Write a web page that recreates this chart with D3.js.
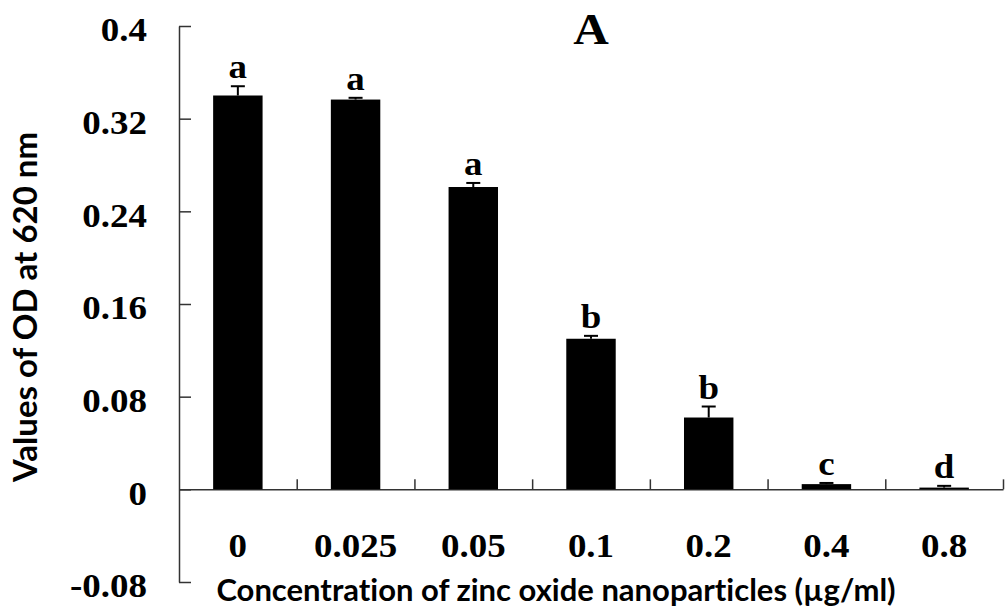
<!DOCTYPE html>
<html>
<head>
<meta charset="utf-8">
<script src="https://cdn.jsdelivr.net/npm/d3@7"></script>
<style>
  body { margin: 0; background: #fff; }
  svg { display: block; }
  .tick text, .num { font-family: "Liberation Serif", "Times New Roman", serif; font-weight: bold; fill: #000; }
  .lab { font-family: Lato, "Open Sans", sans-serif; font-weight: bold; fill: #000; font-variant-ligatures: none; }
</style>
</head>
<body>
<svg id="chart"></svg>
<script>
var categories = ["0", "0.025", "0.05", "0.1", "0.2", "0.4", "0.8"];
var odValues = [0.340, 0.3365, 0.261, 0.130, 0.062, 0.0045, 0.0015];
var errValues = [0.008, 0.0015, 0.0035, 0.0025, 0.0095, 0.001, 0.0015];
var letters = ["a", "a", "a", "b", "b", "c", "d"];
var yTicks = [-0.08, 0, 0.08, 0.16, 0.24, 0.32, 0.4];
var yTickLabels = ["-0.08", "0", "0.08", "0.16", "0.24", "0.32", "0.4"];

var W = 1005, H = 611,
	plotLeft = 179, plotRight = 1003, plotTop = 26, plotBottom = 582;

var svg = d3.select('#chart')
	.attr('width', W)
	.attr('height', H);

var y = d3.scaleLinear()
	.domain([-0.08, 0.4])
	.range([plotBottom, plotTop]);

// one band per concentration, ticks sit on the band edges
var xOuter = d3.scaleBand()
	.domain(categories)
	.range([plotLeft, plotRight])
	.padding(0);

var x = d3.scaleBand()
	.domain(categories)
	.range([plotLeft, plotRight])
	.paddingInner(0.58)
	.paddingOuter(0.29);

var axisColor = "#333";

// y axis, ticks point inside
var yAxis = d3.axisLeft(y)
	.tickValues(yTicks)
	.tickSizeInner(-12)
	.tickSizeOuter(0)
	.tickPadding(32)
	.tickFormat(function(d, i) { return yTickLabels[i]; });

var gy = svg.append('g')
	.attr('transform', 'translate(' + plotLeft + ',0)')
	.call(yAxis);
gy.selectAll('.tick text').attr('font-size', 33).attr('dy', '0.45em');
gy.selectAll('path, line').attr('stroke', axisColor).attr('stroke-width', 1.5);

// x axis at zero, ticks upward between bars
var idx = d3.scaleLinear().domain([0, categories.length]).range([plotLeft, plotRight]);
var xAxis = d3.axisTop(idx)
	.tickValues(d3.range(1, categories.length + 1))
	.tickSizeInner(10)
	.tickSizeOuter(0)
	.tickFormat("");

var gx = svg.append('g')
	.attr('transform', 'translate(0,' + y(0) + ')')
	.call(xAxis);
gx.selectAll('path, line').attr('stroke', axisColor).attr('stroke-width', 1.5);

// category labels
svg.selectAll('.cat')
	.data(categories)
	.enter().append('text')
	.attr('class', 'num')
	.attr('x', function(d) { return xOuter(d) + xOuter.bandwidth() / 2; })
	.attr('y', y(0) + 68)
	.attr('text-anchor', 'middle')
	.attr('font-size', 33)
	.text(function(d) { return d; });

var rows = categories.map(function(c, i) {
	return { cat: c, value: odValues[i], err: errValues[i], letter: letters[i] };
});

svg.selectAll('.bar')
	.data(rows)
	.enter().append('rect')
	.attr('class', 'bar')
	.attr('x', function(d) { return x(d.cat); })
	.attr('y', function(d) { return y(d.value); })
	.attr('width', x.bandwidth())
	.attr('height', function(d) { return y(0) - y(d.value); })
	.attr('fill', '#000');

// error bars
var eb = svg.selectAll('.err')
	.data(rows)
	.enter().append('g')
	.attr('class', 'err')
	.attr('stroke', '#000')
	.attr('stroke-width', 2);

eb.append('line')
	.attr('x1', function(d) { return x(d.cat) + x.bandwidth() / 2; })
	.attr('x2', function(d) { return x(d.cat) + x.bandwidth() / 2; })
	.attr('y1', function(d) { return y(d.value); })
	.attr('y2', function(d) { return y(d.value + d.err); });

eb.append('line')
	.attr('x1', function(d) { return x(d.cat) + x.bandwidth() / 2 - 7; })
	.attr('x2', function(d) { return x(d.cat) + x.bandwidth() / 2 + 7; })
	.attr('y1', function(d) { return y(d.value + d.err); })
	.attr('y2', function(d) { return y(d.value + d.err); });

// significance letters
svg.selectAll('.sig')
	.data(rows)
	.enter().append('text')
	.attr('class', 'num')
	.attr('x', function(d) { return x(d.cat) + x.bandwidth() / 2; })
	.attr('y', function(d) { return y(d.value + d.err) - 8; })
	.attr('text-anchor', 'middle')
	.attr('font-size', 33)
	.text(function(d) { return d.letter; });

svg.append('text')
	.attr('class', 'num')
	.attr('x', 591)
	.attr('y', 44)
	.attr('text-anchor', 'middle')
	.attr('font-size', 44)
	.text('A');

// the serif numbers in the original look a little wide
svg.selectAll('.num, .tick text').each(function() {
	var w = this.getComputedTextLength();
	if (w > 0) {
		d3.select(this)
			.attr('textLength', w * 1.12)
			.attr('lengthAdjust', 'spacingAndGlyphs');
	}
});

svg.append('text')
	.attr('class', 'lab')
	.attr('transform', 'translate(37,307) rotate(-90)')
	.attr('text-anchor', 'middle')
	.attr('font-size', 33)
	.text('Values of OD at 620 nm');

svg.append('text')
	.attr('class', 'lab')
	.attr('x', 556)
	.attr('y', 601)
	.attr('text-anchor', 'middle')
	.attr('font-size', 31)
	.text('Concentration of zinc oxide nanoparticles (µg/ml)');
</script>
</body>
</html>
